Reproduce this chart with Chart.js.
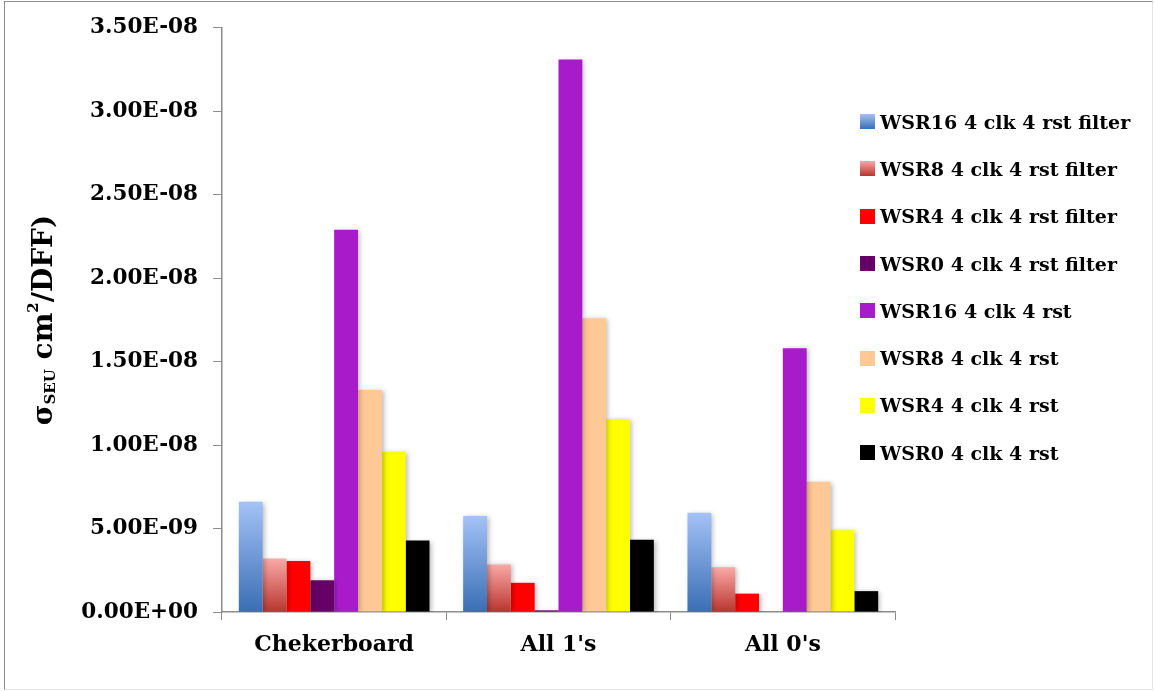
<!DOCTYPE html>
<html>
<head>
<meta charset="utf-8">
<script src="https://cdn.jsdelivr.net/npm/chart.js@4.4.1/dist/chart.umd.min.js"></script>
<style>
  body { margin: 0; background: #fff; }
  #wrap { position: relative; width: 1154px; height: 691px; }
  #frame { position: absolute; left: 4px; top: 1px; width: 1147px; height: 687px; border: 1px solid #8c8c8c; border-right-color: #e6e6e6; border-bottom-color: #e6e6e6; pointer-events: none; }
  #legend { position: absolute; left: 860px; top: 98px; font: bold 19px "DejaVu Serif"; color: #000; }
  .item { height: 47.3px; display: flex; align-items: center; white-space: nowrap; }
  .box { width: 15px; height: 15px; margin-right: 5px; }
</style>
</head>
<body>
<div id="wrap">
  <canvas id="myChart" width="1154" height="691"></canvas>
  <div id="frame"></div>
  <div id="legend"></div>
</div>
<script>
// data
const categories = ["Chekerboard", "All 1's", "All 0's"];
const seriesNames = [
  "WSR16 4 clk 4 rst filter",
  "WSR8 4 clk 4 rst filter",
  "WSR4 4 clk 4 rst filter",
  "WSR0 4 clk 4 rst filter",
  "WSR16 4 clk 4 rst",
  "WSR8 4 clk 4 rst",
  "WSR4 4 clk 4 rst",
  "WSR0 4 clk 4 rst"
];
const wsr16Filter = [6.6e-9, 5.75e-9, 5.95e-9];
const wsr8Filter = [3.2e-9, 2.85e-9, 2.68e-9];
const wsr4Filter = [3.05e-9, 1.75e-9, 1.1e-9];
const wsr0Filter = [1.9e-9, 1.0e-10, 0];
const wsr16 = [2.29e-8, 3.31e-8, 1.58e-8];
const wsr8 = [1.33e-8, 1.76e-8, 7.8e-9];
const wsr4 = [9.58e-9, 1.155e-8, 4.9e-9];
const wsr0 = [4.28e-9, 4.33e-9, 1.25e-9];
const yMax = 3.5e-8;
const yStep = 5e-9;

// colours: [top, bottom] for gradients, plain string otherwise
const seriesColors = [
  ["#a4c2f7", "#3a6eb4"],
  ["#f9a9a7", "#b9352e"],
  "#ff0000",
  "#660066",
  "#a81bca",
  "#fec995",
  "#ffff00",
  "#000000"
];
const seriesValues = [wsr16Filter, wsr8Filter, wsr4Filter, wsr0Filter, wsr16, wsr8, wsr4, wsr0];

// vertical gradient for each bar, from its top down to zero
const barGradient = (top, bottom) => (ctx) => {
  const yScale = ctx.chart.scales.y;
  if (!yScale || ctx.type !== "data") return bottom;
  const y0 = yScale.getPixelForValue(0);
  const y1 = yScale.getPixelForValue(ctx.raw);
  if (!isFinite(y0) || !isFinite(y1) || y0 === y1) return bottom;
  const g = ctx.chart.ctx.createLinearGradient(0, y1, 0, y0);
  g.addColorStop(0, top);
  g.addColorStop(1, bottom);
  return g;
};

const datasets = seriesNames.map((name, i) => {
  const c = seriesColors[i];
  return {
    label: name,
    data: seriesValues[i],
    backgroundColor: Array.isArray(c) ? barGradient(c[0], c[1]) : c,
    borderWidth: 0
  };
});

// tick format like 3.50E-08
const sciLabel = (v) => {
  if (Math.abs(v) < 1e-20) return "0.00E+00";
  const parts = v.toExponential(2).toUpperCase().split("E");
  const exp = parseInt(parts[1], 10);
  const sign = exp < 0 ? "-" : "+";
  return parts[0] + "E" + sign + String(Math.abs(exp)).padStart(2, "0");
};

// soft shadow behind bars
const barShadow = {
  id: "barShadow",
  beforeDatasetsDraw(chart) {
    const ctx = chart.ctx;
    ctx.save();
    ctx.shadowColor = "rgba(0,0,0,0.28)";
    ctx.shadowBlur = 5;
    ctx.shadowOffsetX = 2;
    ctx.shadowOffsetY = 1;
  },
  afterDatasetsDraw(chart) {
    chart.ctx.restore();
  }
};

// y axis title with subscript and superscript
const yTitle = {
  id: "yTitle",
  afterDraw(chart) {
    const ctx = chart.ctx;
    const area = chart.chartArea;
    const big = 'bold 28px "DejaVu Serif"';
    const small = 'bold 15px "DejaVu Serif"';
    const pieces = [
      { t: "σ", f: big, dy: 0 },
      { t: "SEU", f: small, dy: 6 },
      { t: " cm", f: big, dy: 0 },
      { t: "2", f: small, dy: -11 },
      { t: "/DFF)", f: big, dy: 0 }
    ];
    let total = 0;
    pieces.forEach((p) => { ctx.font = p.f; p.w = ctx.measureText(p.t).width; total += p.w; });
    ctx.save();
    ctx.translate(45, (area.top + area.bottom) / 2);
    ctx.rotate(-Math.PI / 2);
    ctx.fillStyle = "#000";
    ctx.textBaseline = "middle";
    let x = -total / 2;
    pieces.forEach((p) => {
      ctx.font = p.f;
      ctx.fillText(p.t, x, p.dy);
      x += p.w;
    });
    ctx.restore();
  }
};

const axisGray = "#8c8c8c";

new Chart(document.getElementById("myChart"), {
  type: "bar",
  data: { labels: categories, datasets: datasets },
  options: {
    responsive: false,
    animation: false,
    layout: { padding: { top: 24, right: 259, left: 0, bottom: 0 } },
    datasets: { bar: { categoryPercentage: 0.85, barPercentage: 1.0 } },
    plugins: { legend: { display: false }, tooltip: { enabled: false } },
    scales: {
      x: {
        grid: { offset: true, drawOnChartArea: false, color: axisGray, tickLength: 8 },
        border: { color: axisGray, width: 1.5 },
        ticks: { color: "#000", font: { family: "DejaVu Serif", size: 22, weight: "bold" }, padding: 12 },
        afterFit: (scale) => { scale.height = 79; }
      },
      y: {
        min: 0,
        max: yMax,
        ticks: {
          stepSize: yStep,
          color: "#000",
          font: { family: "DejaVu Serif", size: 21.5, weight: "bold" },
          padding: 15,
          callback: (v) => sciLabel(v)
        },
        grid: { drawOnChartArea: false, color: axisGray, tickLength: 9 },
        border: { color: axisGray, width: 1.5 },
        afterFit: (scale) => { scale.width = 222; }
      }
    }
  },
  plugins: [barShadow, yTitle]
});

// legend built from the same arrays
const legend = document.getElementById("legend");
seriesNames.forEach((name, i) => {
  const c = seriesColors[i];
  const row = document.createElement("div");
  row.className = "item";
  const box = document.createElement("span");
  box.className = "box";
  box.style.background = Array.isArray(c) ? "linear-gradient(" + c[0] + "," + c[1] + ")" : c;
  const text = document.createElement("span");
  text.textContent = name;
  row.append(box, text);
  legend.appendChild(row);
});
</script>
</body>
</html>
